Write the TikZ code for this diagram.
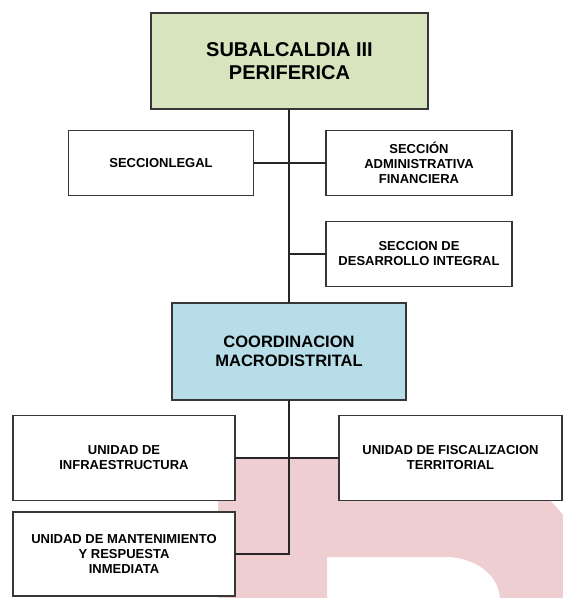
\documentclass[tikz,border=0pt]{standalone}
\usepackage{fontspec}
\setmainfont{Liberation Sans}
\definecolor{boxgreen}{RGB}{215,228,189}
\definecolor{boxblue}{RGB}{183,221,232}
\definecolor{wmpink}{RGB}{239,206,210}
\definecolor{edge}{RGB}{55,55,55}
\begin{document}
\begin{tikzpicture}[x=1pt,y=-1pt,
  orgbox/.style={draw=edge, line width=1.3pt, fill=white, inner sep=0pt, outer sep=0pt,
    align=center, font=\bfseries\fontsize{13}{15}\selectfont},
  topbox/.style={orgbox, fill=boxgreen, font=\bfseries\fontsize{20}{23}\selectfont},
  midbox/.style={orgbox, fill=boxblue, font=\bfseries\fontsize{16.5}{19}\selectfont},
  link/.style={draw=black!85, line width=1.4pt}]
\useasboundingbox (0,0) rectangle (563,598);
% watermark
\begin{scope}
  \clip (0,0) rectangle (563,598);
  \fill[wmpink, even odd rule]
    (218,600) -- (218,458) -- (445,458) .. controls (526,458) and (592,521) .. (592,600) -- cycle
    (327,600) -- (327,557) -- (445,557) .. controls (475,557) and (500,575) .. (500,600) -- cycle;
\end{scope}
% nodes
\node[topbox, minimum width=277pt, minimum height=96pt] (sub) at (289.5,61) {SUBALCALDIA III\\PERIFERICA};
\node[orgbox, minimum width=185pt, minimum height=65pt] (legal) at (161,163) {SECCIONLEGAL};
\node[orgbox, minimum width=186pt, minimum height=65pt] (admin) at (419,163) {SECCIÓN\\ADMINISTRATIVA\\FINANCIERA};
\node[orgbox, minimum width=186pt, minimum height=65pt] (desa) at (419,254) {SECCION DE\\DESARROLLO INTEGRAL};
\node[midbox, minimum width=234pt, minimum height=97pt] (coord) at (289,351.5) {COORDINACION\\MACRODISTRITAL};
\node[orgbox, minimum width=222pt, minimum height=85pt] (infra) at (124,458) {UNIDAD DE\\INFRAESTRUCTURA};
\node[orgbox, minimum width=223pt, minimum height=85pt] (fisc) at (450.5,458) {UNIDAD DE FISCALIZACION\\TERRITORIAL};
\node[orgbox, minimum width=222pt, minimum height=84pt] (mant) at (124,554) {UNIDAD DE MANTENIMIENTO\\Y RESPUESTA\\INMEDIATA};
% connectors
\coordinate (trunkD) at (289,254);
\draw[link] (sub.south -| coord.north) -- (coord.north);
\draw[link] (legal.east) -- (admin.west);
\draw[link] (desa.west) -- (trunkD);
\draw[link] (infra.east) -- (fisc.west);
\draw[link] (coord.south) |- (mant.east);
\end{tikzpicture}
\end{document}
